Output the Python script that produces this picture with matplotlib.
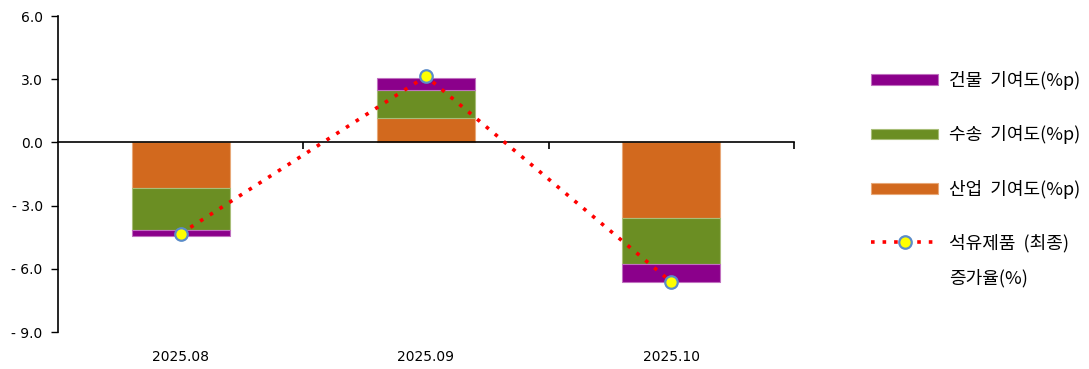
import matplotlib.pyplot as plt
import numpy as np
from matplotlib.ticker import FuncFormatter

plt.rcParams['font.family'] = ['Noto Sans CJK KR', 'DejaVu Sans']

# 월별 기여도 및 증가율
months = ['2025.08', '2025.09', '2025.10']
sanup = [-2.15, 1.15, -3.57]     # 산업 기여도(%p)
susong = [-2.00, 1.35, -2.19]    # 수송 기여도(%p)
geonmul = [-0.27, 0.55, -0.85]   # 건물 기여도(%p)
growth = [-4.33, 3.14, -6.63]    # 석유제품 (최종) 증가율(%)

c_geonmul = '#8B008B'
c_susong = '#6B8E23'
c_sanup = '#D2691E'

fig = plt.figure(figsize=(10.89, 3.69), dpi=100)
ax = fig.add_axes([58 / 1089, 1 - 332 / 369, (794 - 58) / 1089, (332 - 16) / 369])

x = np.arange(len(months))
w = 0.4
sanup = np.array(sanup)
susong = np.array(susong)
geonmul = np.array(geonmul)

b_sanup = ax.bar(x, sanup, w, color=c_sanup, edgecolor='#E8A878', linewidth=0.8, zorder=2)
b_susong = ax.bar(x, susong, w, bottom=sanup, color=c_susong, edgecolor='#A8BE78', linewidth=0.8, zorder=2)
b_geonmul = ax.bar(x, geonmul, w, bottom=sanup + susong, color=c_geonmul, edgecolor='#C070C0', linewidth=0.8, zorder=2)

ln, = ax.plot(x, growth, color='red', linestyle=(0, (1, 2.2)), linewidth=2.6,
              marker='o', markersize=9, markerfacecolor='yellow',
              markeredgecolor='#5B8CC8', markeredgewidth=1.6, zorder=4)

ax.set_xlim(-0.5, 2.5)
ax.set_ylim(-9, 6)
ax.set_yticks(np.arange(-9, 6.1, 3))
ax.yaxis.set_major_formatter(FuncFormatter(
    lambda v, p: f'- {abs(v):.1f}' if v < 0 else f'{v:.1f}'))
ax.tick_params(axis='y', length=5, width=1, labelsize=10, pad=6)
for t in ax.get_yticklabels():
    t.set_fontfamily('DejaVu Sans')

ax.spines['top'].set_visible(False)
ax.spines['right'].set_visible(False)
ax.spines['bottom'].set_position(('data', 0))
ax.spines['left'].set_linewidth(1.2)
ax.spines['bottom'].set_linewidth(1.2)
ax.set_xticks([0.5, 1.5, 2.5])
ax.set_xticklabels([])
ax.tick_params(axis='x', direction='out', length=5, width=1.2)

for xi, m in zip(x, months):
    ax.text(xi, -0.08, m, transform=ax.get_xaxis_transform(), ha='center',
            va='center', fontsize=10, family='DejaVu Sans')

leg = fig.legend([b_geonmul, b_susong, b_sanup, ln],
                 ['건물  기여도(%p)', '수송  기여도(%p)', '산업  기여도(%p)',
                  '석유제품  (최종)'],
                 loc='upper left', bbox_to_anchor=(864 / 1089, 1 - 64 / 369),
                 frameon=False, fontsize=13, handlelength=3.7, handleheight=0.55,
                 handletextpad=0.6, labelspacing=1.95, borderaxespad=0)

# 마지막 범례 항목의 두 번째 줄
fig.canvas.draw()
last = leg.get_texts()[-1]
bb = last.get_window_extent()
fig.text(bb.x0 / 1089, (bb.y0 + bb.y1) / 2 / 369 - 35 / 369, '증가율(%)',
         fontsize=13, ha='left', va='center')

fig.savefig('out.png', dpi=100)
